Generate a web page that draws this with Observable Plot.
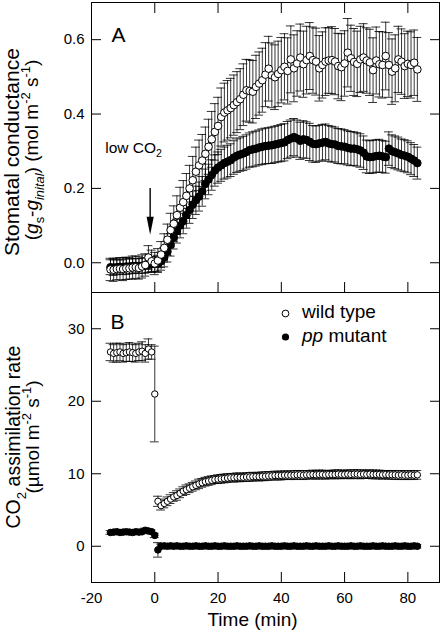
<!DOCTYPE html>
<html><head><meta charset="utf-8">
<script src="https://cdn.jsdelivr.net/npm/d3@7"></script>
<script src="https://cdn.jsdelivr.net/npm/@observablehq/plot@0.6"></script>
<style>
html,body{margin:0;padding:0;background:#fff;}
#wrap{position:relative;width:442px;height:633px;font-family:"Liberation Sans",Arial,sans-serif;background:#fff;}
#wrap svg{position:absolute;left:0;}
</style></head><body><div id="wrap"></div>
<script>
// ---- data ----
const times = [-14,-13,-12,-11,-10,-9,-8,-7,-6,-5,
  -4,-3,-2,-1,0,1,2,3,4,5,
  6,7,8,9,10,11,12,13,14,15,
  16,17,18,19,20,21,22,23,24,25,
  26,27,28,29,30,31,32,33,34,35,
  36,37,38,39,40,41,42,43,44,45,
  46,47,48,49,50,51,52,53,54,55,
  56,57,58,59,60,61,62,63,64,65,
  66,67,68,69,70,71,72,73,74,75,
  76,77,78,79,80,81,82,83];

// Panel A: stomatal conductance (gs - ginitial), wild type
const gWT = [-0.018,-0.019,-0.017,-0.016,-0.017,-0.015,-0.015,-0.013,-0.012,-0.014,
  -0.010,-0.006,0.014,0.004,-0.002,0.006,0.022,0.040,0.062,0.088,
  0.105,0.128,0.148,0.163,0.180,0.200,0.222,0.245,0.262,0.275,
  0.293,0.312,0.332,0.352,0.368,0.392,0.404,0.410,0.416,0.424,
  0.432,0.440,0.452,0.464,0.462,0.460,0.473,0.482,0.491,0.506,
  0.522,0.504,0.499,0.508,0.518,0.527,0.516,0.547,0.523,0.536,
  0.552,0.534,0.545,0.556,0.545,0.541,0.523,0.532,0.541,0.544,
  0.545,0.541,0.529,0.526,0.536,0.565,0.550,0.540,0.535,0.547,
  0.552,0.544,0.539,0.518,0.544,0.534,0.532,0.556,0.532,0.514,
  0.523,0.547,0.541,0.529,0.535,0.532,0.538,0.520];
const gWTse = [0.030,0.031,0.029,0.030,0.031,0.030,0.029,0.031,0.030,0.030,
  0.031,0.030,0.032,0.030,0.030,0.032,0.035,0.038,0.042,0.045,
  0.048,0.052,0.055,0.058,0.060,0.062,0.064,0.066,0.068,0.070,
  0.072,0.074,0.075,0.076,0.077,0.078,0.079,0.080,0.080,0.081,
  0.082,0.082,0.083,0.083,0.084,0.084,0.085,0.085,0.086,0.086,
  0.087,0.087,0.087,0.088,0.088,0.089,0.089,0.090,0.090,0.088,
  0.090,0.089,0.091,0.090,0.089,0.090,0.088,0.089,0.091,0.088,
  0.090,0.089,0.088,0.090,0.088,0.092,0.089,0.090,0.088,0.089,
  0.091,0.088,0.089,0.087,0.090,0.088,0.089,0.091,0.087,0.088,
  0.090,0.089,0.088,0.087,0.088,0.089,0.088,0.086];
// Panel A: pp mutant
const gPP = [-0.012,-0.013,-0.012,-0.011,-0.012,-0.010,-0.010,-0.009,-0.008,-0.009,
  -0.008,-0.007,-0.006,-0.004,-0.003,-0.002,0.004,0.015,0.030,0.048,
  0.068,0.085,0.100,0.112,0.128,0.142,0.156,0.168,0.178,0.192,
  0.212,0.224,0.236,0.248,0.256,0.262,0.268,0.272,0.276,0.283,
  0.288,0.291,0.294,0.298,0.303,0.305,0.307,0.310,0.312,0.314,
  0.315,0.316,0.318,0.320,0.322,0.324,0.330,0.334,0.338,0.334,
  0.328,0.332,0.330,0.325,0.320,0.319,0.321,0.323,0.325,0.321,
  0.319,0.318,0.314,0.313,0.312,0.309,0.307,0.307,0.305,0.302,
  0.296,0.286,0.284,0.285,0.287,0.288,0.286,0.284,0.307,0.300,
  0.297,0.294,0.290,0.288,0.285,0.280,0.275,0.268];
const gPPse = [0.020,0.021,0.020,0.019,0.020,0.021,0.020,0.020,0.019,0.020,
  0.020,0.021,0.020,0.020,0.020,0.022,0.024,0.026,0.028,0.030,
  0.031,0.032,0.033,0.034,0.035,0.036,0.037,0.038,0.039,0.040,
  0.040,0.041,0.041,0.042,0.042,0.043,0.043,0.044,0.044,0.045,
  0.045,0.045,0.046,0.046,0.046,0.047,0.047,0.047,0.048,0.048,
  0.048,0.049,0.049,0.049,0.050,0.050,0.050,0.050,0.050,0.050,
  0.050,0.050,0.049,0.050,0.049,0.049,0.048,0.049,0.048,0.048,
  0.048,0.047,0.047,0.047,0.046,0.046,0.046,0.045,0.045,0.045,
  0.045,0.044,0.044,0.044,0.044,0.044,0.043,0.043,0.045,0.044,
  0.044,0.044,0.043,0.043,0.043,0.043,0.043,0.043];

// Panel B: CO2 assimilation rate, wild type
const aWT = [26.8,26.6,26.7,26.8,26.6,26.7,26.8,26.7,26.6,26.8,
  26.9,26.6,27.2,26.8,21.0,6.2,5.6,5.9,6.2,6.5,
  6.8,7.0,7.3,7.6,7.8,8.0,8.2,8.4,8.6,8.75,
  8.9,9.0,9.1,9.2,9.25,9.3,9.35,9.4,9.45,9.45,
  9.5,9.5,9.5,9.55,9.55,9.6,9.6,9.6,9.65,9.65,
  9.7,9.7,9.75,9.75,9.75,9.8,9.8,9.8,9.8,9.85,
  9.85,9.8,9.85,9.85,9.9,9.85,9.9,9.9,9.85,9.9,
  9.9,9.9,9.95,9.9,9.9,9.95,9.9,9.95,9.95,9.9,
  9.95,9.9,9.95,9.9,9.9,9.9,9.85,9.9,9.85,9.85,
  9.85,9.8,9.85,9.8,9.8,9.85,9.8,9.85];
const aWTse = [1.2,1.2,1.3,1.2,1.2,1.2,1.3,1.2,1.2,1.2,
  1.3,1.2,1.4,1.0,6.6,0.7,0.6,0.6,0.6,0.6,
  0.6,0.65,0.6,0.6,0.65,0.6,0.6,0.6,0.65,0.6,
  0.6,0.6,0.6,0.55,0.6,0.6,0.6,0.6,0.55,0.6,
  0.6,0.6,0.55,0.6,0.6,0.6,0.55,0.6,0.6,0.6,
  0.6,0.55,0.6,0.6,0.6,0.6,0.55,0.6,0.6,0.6,
  0.6,0.6,0.6,0.55,0.6,0.6,0.6,0.6,0.6,0.55,
  0.6,0.6,0.6,0.6,0.55,0.6,0.6,0.6,0.6,0.6,
  0.6,0.55,0.6,0.6,0.6,0.6,0.6,0.55,0.6,0.6,
  0.6,0.6,0.6,0.6,0.6,0.6,0.6,0.6];
// Panel B: pp mutant
const aPP = [1.9,1.95,2.0,1.9,1.95,2.0,1.95,1.9,2.0,1.95,
  2.0,2.2,2.1,2.0,1.5,-0.5,0.0,0.05,0.0,0.05,
  0.0,0.05,0.0,0.0,0.05,0.0,0.0,0.05,0.0,0.0,
  0.05,0.0,0.0,0.05,0.0,0.0,0.05,0.0,0.0,0.0,
  0.05,0.0,0.0,0.0,0.05,0.0,0.0,0.05,0.0,0.0,
  0.0,0.05,0.0,0.0,0.0,0.05,0.0,0.0,0.05,0.0,
  0.0,0.0,0.05,0.0,0.0,0.05,0.0,0.0,0.0,0.05,
  0.0,0.0,0.05,0.0,0.0,0.0,0.05,0.0,0.0,0.05,
  0.0,0.0,0.0,0.05,0.0,0.0,0.05,0.0,0.0,0.0,
  0.05,0.0,0.0,0.05,0.0,0.0,0.05,0.0];
const aPPse = [0.25,0.25,0.25,0.25,0.25,0.25,0.25,0.25,0.25,0.25,
  0.25,0.3,0.3,0.25,0.3,1.0,0.3,0.25,0.25,0.25,
  0.25,0.25,0.25,0.25,0.25,0.25,0.25,0.25,0.25,0.25,
  0.25,0.25,0.25,0.25,0.25,0.25,0.25,0.25,0.25,0.25,
  0.25,0.25,0.25,0.25,0.25,0.25,0.25,0.25,0.25,0.25,
  0.25,0.25,0.25,0.25,0.25,0.25,0.25,0.25,0.25,0.25,
  0.25,0.25,0.25,0.25,0.25,0.25,0.25,0.25,0.25,0.25,
  0.25,0.25,0.25,0.25,0.25,0.25,0.25,0.25,0.25,0.25,
  0.25,0.25,0.25,0.25,0.25,0.25,0.25,0.25,0.25,0.25,
  0.25,0.25,0.25,0.25,0.25,0.25,0.25,0.25];

const xTicks = [-20,0,20,40,60,80];
const gTicks = [0,0.2,0.4,0.6];
const aTicks = [0,10,20,30];
const seriesNames = ["wild type","pp mutant"];
const arrowAnno = {x: -1.3, y1: 0.2, y2: 0.074};
const lowCO2Anno = {x: -15.5, y: 0.295};

// ---- build ----
const FONT = '"Liberation Sans", Arial, Helvetica, sans-serif';
const W = 442, ML = 91, MR = 3;
const capHalf = 1.4;
const rows = times.map((t, i) => ({t, gw: gWT[i], gws: gWTse[i], gp: gPP[i], gps: gPPse[i],
  aw: aWT[i], aws: aWTse[i], ap: aPP[i], aps: aPPse[i]}));

function errBars(key, seKey) {
  const lo = d => d[key] - d[seKey], hi = d => d[key] + d[seKey];
  const st = {stroke: "black", strokeWidth: 0.8};
  return [
    Plot.ruleX(rows, {x: "t", y1: lo, y2: hi, ...st}),
    Plot.ruleY(rows, {y: hi, x1: d => d.t - capHalf, x2: d => d.t + capHalf, ...st}),
    Plot.ruleY(rows, {y: lo, x1: d => d.t - capHalf, x2: d => d.t + capHalf, ...st})
  ];
}
const noText = () => "";
const style = {fontFamily: FONT, fontSize: "15px", color: "black", background: "transparent"};

const topPlot = Plot.plot({
  width: W, height: 294, marginTop: 2, marginBottom: 2, marginLeft: ML, marginRight: MR,
  style,
  x: {domain: [-20, 90], axis: null},
  y: {domain: [-0.08, 0.7], axis: null},
  marks: [
    ...errBars("gw", "gws"),
    ...errBars("gp", "gps"),
    Plot.dot(rows, {x: "t", y: "gp", r: 3.8, fill: "black", stroke: "black", strokeWidth: 1}),
    Plot.dot(rows, {x: "t", y: "gw", r: 3.8, fill: "white", stroke: "black", strokeWidth: 1}),
    Plot.axisY({ticks: gTicks, anchor: "left", tickSize: -10, tickPadding: 17, tickFormat: d3.format(".1f"), label: null}),
    Plot.axisY({ticks: gTicks, anchor: "right", tickSize: -10, tickFormat: noText, label: null}),
    Plot.axisX({ticks: xTicks, anchor: "bottom", tickSize: -10, tickFormat: noText, label: null}),
    Plot.axisX({ticks: xTicks, anchor: "top", tickSize: -10, tickFormat: noText, label: null}),
    Plot.frame({stroke: "black"})
  ]
});

const botPlot = Plot.plot({
  width: W, height: 343, marginTop: 2, marginBottom: 51, marginLeft: ML, marginRight: MR,
  style,
  x: {domain: [-20, 90], axis: null},
  y: {domain: [-5, 35], axis: null},
  marks: [
    ...errBars("aw", "aws"),
    Plot.dot(rows, {x: "t", y: "aw", r: 3.2, fill: "white", stroke: "black", strokeWidth: 1}),
    ...errBars("ap", "aps"),
    Plot.dot(rows, {x: "t", y: "ap", r: 3.3, fill: "black", stroke: "black", strokeWidth: 1}),
    Plot.axisY({ticks: aTicks, anchor: "left", tickSize: -10, tickPadding: 17, tickFormat: d => String(d), label: null}),
    Plot.axisY({ticks: aTicks, anchor: "right", tickSize: -10, tickFormat: noText, label: null}),
    Plot.axisX({ticks: xTicks, anchor: "bottom", tickSize: -10, tickPadding: 20, tickFormat: d => String(d), label: null}),
    Plot.frame({stroke: "black"})
  ]
});

const wrap = document.getElementById("wrap");
topPlot.style.top = "0px";
botPlot.style.top = "290px";
wrap.appendChild(botPlot);
wrap.appendChild(topPlot);

// ---- overlay text & annotations ----
const ov = d3.select(wrap).append("svg")
  .attr("width", W).attr("height", 633)
  .style("top", "0px").style("pointer-events", "none")
  .attr("font-family", FONT).attr("fill", "black");

function richText(x, y, rotate, size, parts, anchor = "middle") {
  const t = ov.append("text")
    .attr("transform", `translate(${x},${y})` + (rotate ? ` rotate(${rotate})` : ""))
    .attr("font-size", size).attr("text-anchor", anchor);
  let shift = 0;
  for (const p of parts) {
    const target = p.sub ? size * 0.3 : p.sup ? -size * 0.42 : 0;
    const ts = t.append("tspan").text(p.s).attr("dy", target - shift);
    shift = target;
    if (p.sub || p.sup) ts.attr("font-size", size * 0.68);
    if (p.it) ts.attr("font-style", "italic");
  }
  return t;
}

richText(18.5, 152, -90, 21, [{s: "Stomatal conductance"}]);
richText(38, 150, -90, 19, [
  {s: "("}, {s: "g", it: true}, {s: "s", sub: true}, {s: "-"}, {s: "g", it: true},
  {s: "inital", it: true, sub: true}, {s: ") (mol m"}, {s: "-2", sup: true},
  {s: " s"}, {s: "-1", sup: true}, {s: ")"}]);
richText(20, 437, -90, 19.5, [{s: "CO"}, {s: "2", sub: true}, {s: " assimilation rate"}]);
richText(39, 437, -90, 19, [{s: "(µmol m"}, {s: "-2", sup: true}, {s: " s"}, {s: "-1", sup: true}, {s: ")"}]);
richText(252.5, 625.5, 0, 19, [{s: "Time (min)"}]);
richText(111.5, 42, 0, 21, [{s: "A"}], "start");
richText(110.5, 329, 0, 21, [{s: "B"}], "start");

// low CO2 annotation and arrow, placed through the top panel's scales
const sx = topPlot.scale("x"), sy = topPlot.scale("y");
richText(sx.apply(lowCO2Anno.x), sy.apply(lowCO2Anno.y), 0, 15.5, [{s: "low CO"}, {s: "2", sub: true}], "start");
const ax = sx.apply(arrowAnno.x), ay1 = sy.apply(arrowAnno.y1), ay2 = sy.apply(arrowAnno.y2);
ov.append("line").attr("x1", ax).attr("x2", ax).attr("y1", ay1).attr("y2", ay2 - 14)
  .attr("stroke", "black").attr("stroke-width", 1.4);
ov.append("path").attr("d", `M${ax - 3.6},${ay2 - 18}L${ax + 3.6},${ay2 - 18}L${ax},${ay2}Z`).attr("fill", "black");

// legend
ov.append("circle").attr("cx", 285.5).attr("cy", 313.5).attr("r", 3.4).attr("fill", "white").attr("stroke", "black").attr("stroke-width", 1);
richText(302, 318, 0, 19, [{s: seriesNames[0]}], "start");
ov.append("circle").attr("cx", 285.5).attr("cy", 337).attr("r", 3.6).attr("fill", "black");
richText(302, 341.5, 0, 19, [{s: "pp", it: true}, {s: " mutant"}], "start");
</script></body></html>
